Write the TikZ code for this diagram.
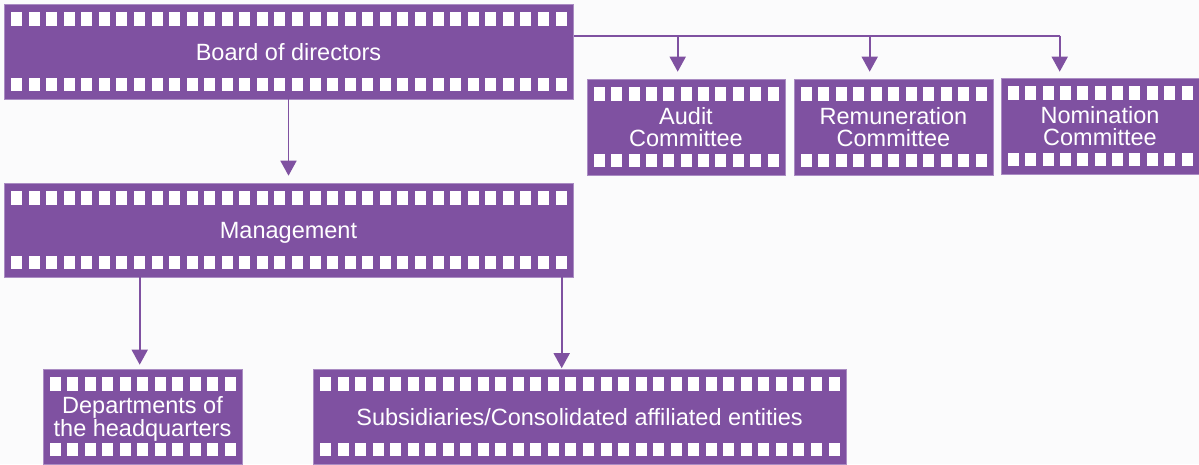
\documentclass[tikz,border=0pt]{standalone}
\usepackage{fontspec}
\setmainfont{Liberation Sans}
\usetikzlibrary{arrows.meta,calc}
\definecolor{filmpurple}{RGB}{127,81,161}
\definecolor{filmedge}{RGB}{170,140,195}
\definecolor{bgcol}{RGB}{251,251,252}
\newcommand\filmbox[7]{% name L T R B n text
  \pgfmathsetmacro\fbw{#4-#2}%
  \pgfmathsetmacro\fbh{#5-#3}%
  \pgfmathsetmacro\fcx{(#2+#4)/2}%
  \pgfmathsetmacro\fcy{(#3+#5)/2}%
  \node[film, minimum width=\fbw pt, minimum height=\fbh pt] (#1) at (\fcx,\fcy) {#7};
  \pgfmathsetmacro\fp{(#4-#2-13.5-11)/(#6-1)}%
  \pgfmathtruncatemacro\nlast{#6-1}%
  \foreach \i in {0,...,\nlast}{
    \fill[hole] ({#2+7+\i*\fp},{#3+8}) rectangle ++(11,13.5);
    \fill[hole] ({#2+7+\i*\fp},{#5-21.5}) rectangle ++(11,13.5);
  }
}
\begin{document}
\begin{tikzpicture}[x=1pt,y=-1pt,
  film/.style={fill=filmpurple, draw=filmedge, line width=0.6pt, inner sep=0pt,
    text=white, align=center, font=\fontsize{23.5}{22.5}\selectfont, text depth=0pt},
  hole/.style={fill=white},
  link/.style={draw=filmpurple, line width=1.7pt},
  arr/.style={link, -{Triangle[width=16pt,length=15pt]}}]
\fill[bgcol] (0,0) rectangle (1199,464);
\useasboundingbox (0,0) rectangle (1199,464);

\filmbox{board}{4}{4}{573}{99}{32}{Board of directors}
\filmbox{mgmt}{4}{183}{573}{277}{32}{Management}
\filmbox{audit}{587}{79}{785}{175}{11}{Audit\\Committee}
\filmbox{remun}{794}{79}{993}{175}{11}{Remuneration\\Committee}
\filmbox{nomin}{1001}{78}{1199}{174}{11}{Nomination\\Committee}
\filmbox{deps}{43}{369}{242}{464}{11}{Departments of\\the headquarters}
\filmbox{subs}{313}{369}{846}{464}{30}{Subsidiaries/Consolidated affiliated entities}

\coordinate (bus) at ($(board.north east)+(1,32)$);
\coordinate (a1) at ($(audit.north west)+(91,0)$);
\coordinate (r1) at ($(remun.north west)+(76,0)$);
\coordinate (n1) at ($(nomin.north west)+(59,0)$);
\coordinate (d1) at ($(deps.north west)+(97,0)$);
\coordinate (s1) at ($(subs.north west)+(249,0)$);

\draw[link] (bus) -- (bus -| n1);
\draw[arr, shorten >=7pt] (bus -| a1) -- (a1);
\draw[arr, shorten >=7pt] (bus -| r1) -- (r1);
\draw[arr, shorten >=6pt] (bus -| n1) -- (n1);
\draw[arr, shorten >=7pt] (board.south) -- (mgmt.north);
\draw[arr, shorten >=4pt] (mgmt.south -| d1) -- (d1);
\draw[arr, shorten >=0.5pt] (mgmt.south -| s1) -- (s1);
\end{tikzpicture}
\end{document}
